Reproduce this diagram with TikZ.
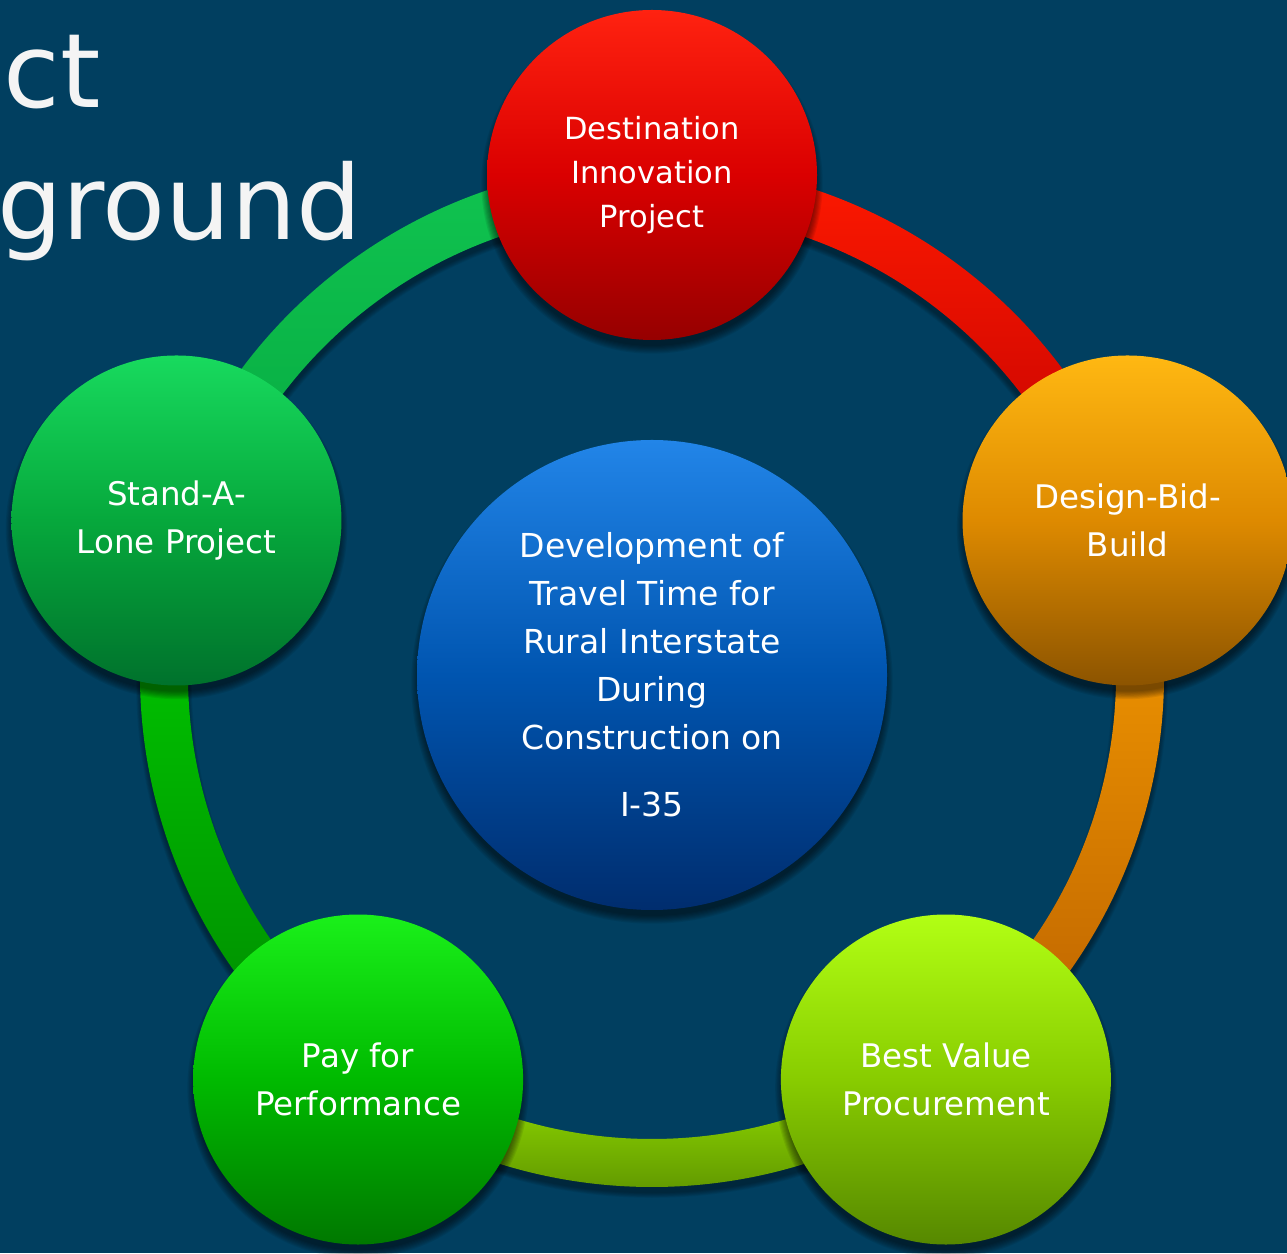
\documentclass[tikz,border=0pt]{standalone}
\usepackage{fontspec}
\setmainfont{DejaVu Sans}
\usetikzlibrary{calc}
\definecolor{bg}{HTML}{013F60}
\definecolor{titlecol}{HTML}{F4F4F4}
\tikzset{
  bubble/.style={circle, minimum size=330, inner sep=0pt, text=white, align=center,
    font=\fontsize{32.5}{48}\selectfont},
  titletext/.style={text=titlecol, inner sep=0pt, font=\fontsize{103}{132}\selectfont},
  shadowfill/.style={black, opacity=0.075},
}
\begin{document}
\begin{tikzpicture}[x=1pt,y=1pt]
\fill[bg] (0,0) rectangle (1287,1253);
\useasboundingbox (0,0) rectangle (1287,1253);
\coordinate (C) at (652,578);
% title fragments
\node[titletext, anchor=base east] (t1) at (101,1145) {ct};
\node[titletext, anchor=base east] (t2) at (362,1013) {ground};
% ring shadow
\foreach \k in {0,...,6}
  \draw[black, opacity=0.06, line width={46+\k*1.6}] ($(C)+(0,-7)$) circle (488);
% ring segments
\shade[top color=red!90!yellow, bottom color={rgb,255:red,190;green,0;blue,0}]
  ($(C)+(90:512)$) arc[start angle=90, end angle=18, radius=512]
  -- ($(C)+(18:464)$) arc[start angle=18, end angle=90, radius=464] -- cycle;
\shade[top color={rgb,255:red,250;green,160;blue,0}, bottom color={rgb,255:red,185;green,95;blue,0}]
  ($(C)+(18:512)$) arc[start angle=18, end angle=-54, radius=512]
  -- ($(C)+(-54:464)$) arc[start angle=-54, end angle=18, radius=464] -- cycle;
\shade[top color={rgb,255:red,160;green,240;blue,0}, bottom color={rgb,255:red,85;green,135;blue,0}]
  ($(C)+(-54:512)$) arc[start angle=-54, end angle=-126, radius=512]
  -- ($(C)+(-126:464)$) arc[start angle=-126, end angle=-54, radius=464] -- cycle;
\shade[top color={rgb,255:red,0;green,210;blue,0}, bottom color={rgb,255:red,0;green,135;blue,0}]
  ($(C)+(-126:512)$) arc[start angle=-126, end angle=-198, radius=512]
  -- ($(C)+(162:464)$) arc[start angle=162, end angle=234, radius=464] -- cycle;
\shade[top color={rgb,255:red,16;green,196;blue,80}, bottom color={rgb,255:red,6;green,168;blue,64}]
  ($(C)+(162:512)$) arc[start angle=162, end angle=90, radius=512]
  -- ($(C)+(90:464)$) arc[start angle=90, end angle=162, radius=464] -- cycle;
% circle positions
\coordinate (pT) at ($(C)+(90:500)$);
\coordinate (pR) at ($(C)+(18:500)$);
\coordinate (pBR) at ($(C)+(-54:500)$);
\coordinate (pBL) at ($(C)+(-126:500)$);
\coordinate (pL) at ($(C)+(162:500)$);
% circle shadows
\foreach \p in {pT,pR,pBR,pBL,pL}
  \foreach \k in {0,...,7}
    \fill[shadowfill] ($(\p)+(0,-8)$) circle ({163+\k*1.1});
\foreach \k in {0,...,7}
  \fill[shadowfill] ($(C)+(0,-8)$) circle ({233+\k*1.1});
% outer circles
\node[bubble, top color={rgb,255:red,255;green,34;blue,16}, bottom color={rgb,255:red,150;green,0;blue,0},
  middle color={rgb,255:red,218;green,0;blue,0}, font=\fontsize{30.5}{44}\selectfont]
  (nT) at (pT) {Destination\\Innovation\\Project};
\node[bubble, top color={rgb,255:red,255;green,184;blue,18}, bottom color={rgb,255:red,140;green,84;blue,0},
  middle color={rgb,255:red,222;green,138;blue,0}]
  (nR) at (pR) {Design-Bid-\\Build};
\node[bubble, top color={rgb,255:red,178;green,255;blue,20}, bottom color={rgb,255:red,86;green,136;blue,0},
  middle color={rgb,255:red,136;green,204;blue,0}]
  (nBR) at (pBR) {Best Value\\Procurement};
\node[bubble, top color={rgb,255:red,26;green,240;blue,26}, bottom color={rgb,255:red,0;green,120;blue,0},
  middle color={rgb,255:red,0;green,186;blue,0}]
  (nBL) at (pBL) {Pay for\\Performance};
\node[bubble, top color={rgb,255:red,24;green,218;blue,94}, bottom color={rgb,255:red,0;green,114;blue,44},
  middle color={rgb,255:red,6;green,168;blue,60}]
  (nL) at (pL) {Stand-A-\\Lone Project};
% center circle
\node[bubble, minimum size=470, top color={rgb,255:red,34;green,133;blue,232}, bottom color={rgb,255:red,0;green,45;blue,110},
  middle color={rgb,255:red,0;green,85;blue,176}, font=\fontsize{33}{48}\selectfont]
  (nC) at (C) {Development of\\Travel Time for\\Rural Interstate\\During\\Construction on\\[19pt]I-35};
\end{tikzpicture}
\end{document}
